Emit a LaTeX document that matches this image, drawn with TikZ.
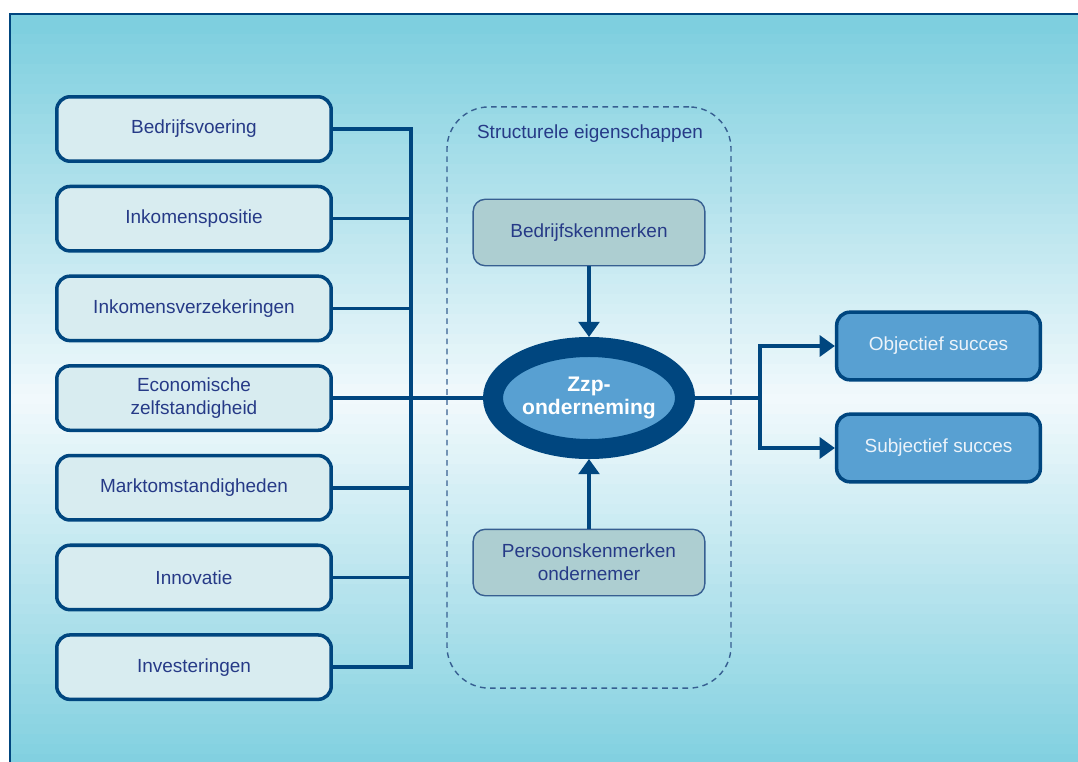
\documentclass[tikz,border=0pt]{standalone}
\usepackage{fontspec}
\setmainfont{Liberation Sans}
\usetikzlibrary{arrows.meta,shapes.geometric,positioning}
\definecolor{zzpnavy}{RGB}{0,70,127}
\definecolor{zzptext}{RGB}{38,58,135}
\definecolor{zzpcyan}{RGB}{126,207,223}
\definecolor{zzplight}{RGB}{241,249,252}
\definecolor{zzpbox}{RGB}{216,236,240}
\definecolor{zzpgrey}{RGB}{173,206,209}
\definecolor{zzpmid}{RGB}{88,160,210}
\definecolor{zzpdash}{RGB}{55,95,145}
\definecolor{zzpwhite}{RGB}{236,243,250}
\tikzset{>={Triangle[length=0.38cm,width=0.52cm]}, % big filled arrow heads
x=0.025cm, y=-0.025cm, % one unit is one pixel of the original figure
node distance=2.2417cm, % distance between the factor boxes on the left
every node/.style={font=\fontsize{13.5}{16.3}\selectfont, text=zzptext, align=center}, % text of all nodes
}

\begin{document}
\begin{tikzpicture}[
	factor/.style={rectangle, rounded corners=0.33cm, draw=zzpnavy, line width=2.5pt, fill=zzpbox, minimum width=6.86cm, minimum height=1.61cm},
	kenmerk/.style={rectangle, rounded corners=0.3cm, draw=zzpdash, line width=1pt, fill=zzpgrey, minimum width=5.79cm, minimum height=1.66cm},
	succes/.style={rectangle, rounded corners=0.33cm, draw=zzpnavy, line width=2.5pt, fill=zzpmid, text=zzpwhite, minimum width=5.09cm, minimum height=1.69cm},
	kern/.style={ellipse, draw=zzpnavy, line width=0.5cm, fill=zzpmid, inner sep=0pt, minimum width=4.8cm, minimum height=2.55cm, text=white, font=\bfseries\fontsize{15}{17}\selectfont},
	groep/.style={rectangle, rounded corners=1.05cm, draw=zzpdash, line width=1pt, dash pattern=on 4pt off 3.2pt, minimum width=7.1cm, minimum height=14.525cm},
	link/.style={draw=zzpnavy, line width=2.5pt}]
\useasboundingbox (0,0) rectangle (1078,762);
\fill[white] (0,0) rectangle (1078,762);
% background: cyan at top and bottom, almost white in the middle
\foreach \k in {0,...,76}{
	\pgfmathtruncatemacro{\p}{min(100,abs(19+10*\k-400)/3.7)}
	\fill[zzpcyan!\p!zzplight] (10,14+10*\k) rectangle (1090,25+10*\k);
}
\draw[zzpnavy, line width=1.2pt] (10,775) |- (1090,14);
% factors on the left
\node[factor] (b1) at (194,129) {Bedrijfsvoering};
\node[factor, below of=b1] (b2) {Inkomenspositie};
\node[factor, below of=b2] (b3) {Inkomensverzekeringen};
\node[factor, below of=b3] (b4) {Economische\\zelfstandigheid};
\node[factor, below of=b4] (b5) {Marktomstandigheden};
\node[factor, below of=b5] (b6) {Innovatie};
\node[factor, below of=b6] (b7) {Investeringen};
% structural properties
\node[groep] (groep) at (589,397.5) {};
\node (titel) at (590,134) {Structurele eigenschappen};
\node[kenmerk] (bk) at (589,232.5) {Bedrijfskenmerken};
\node[kenmerk] (pk) at (589,562.5) {Persoonskenmerken\\ondernemer};
\node[kern] (zzp) at (589,398) {Zzp-\\onderneming};
% outcomes
\node[succes] (obj) at (938.5,346) {Objectief succes};
\node[succes] (subj) at (938.5,448) {Subjectief succes};
\coordinate (bus) at (411,398);
\coordinate (split) at (760,398);
\foreach \i in {1,...,7} \draw[link] (b\i) -| (bus);
\draw[link] (bus) -- (zzp);
\draw[link, ->] (bk) -- (zzp);
\draw[link, ->] (pk) -- (zzp);
\draw[link] (zzp) -- (split);
\draw[link, ->] (split) |- (obj);
\draw[link, ->] (split) |- (subj);
\end{tikzpicture}
\end{document}
